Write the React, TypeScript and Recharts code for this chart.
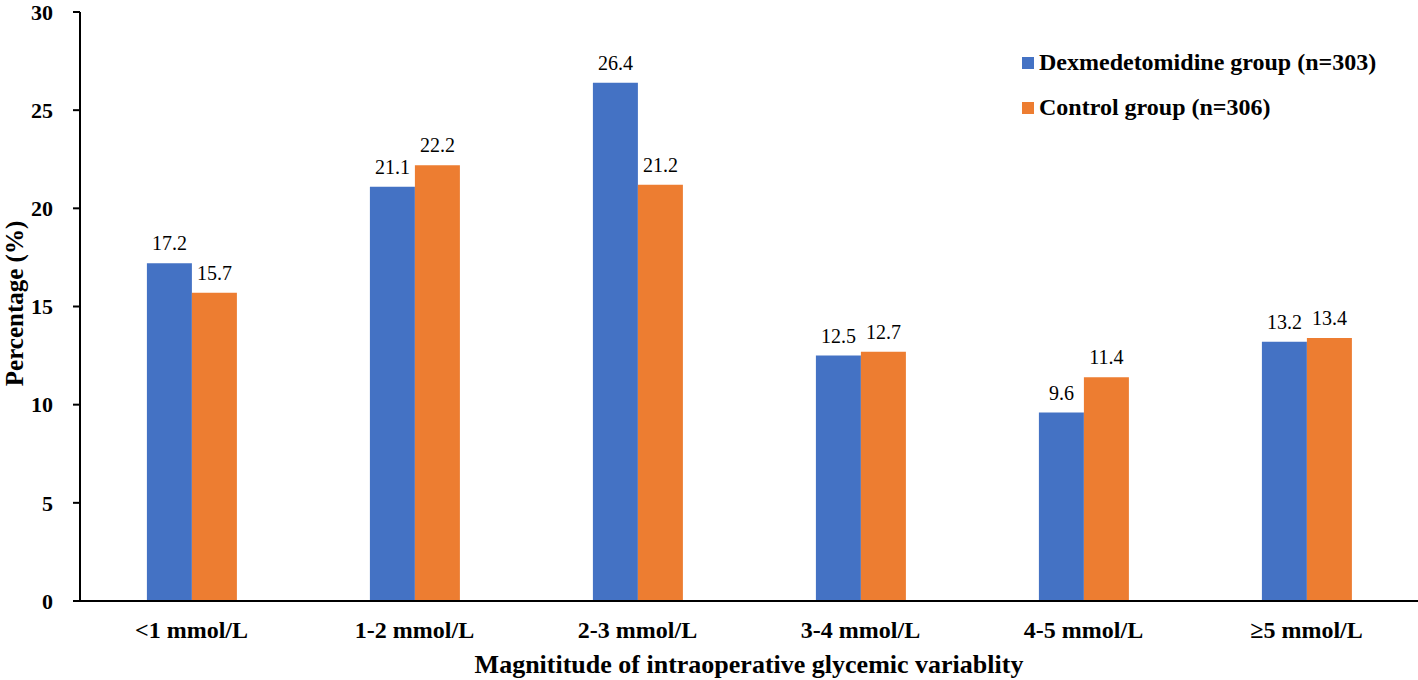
import React from "react";
import { BarChart, Bar, XAxis, YAxis, LabelList, Label } from "recharts";

const categories = ["<1 mmol/L", "1-2 mmol/L", "2-3 mmol/L", "3-4 mmol/L", "4-5 mmol/L", "≥5 mmol/L"];
const dexValues = [17.2, 21.1, 26.4, 12.5, 9.6, 13.2];
const controlValues = [15.7, 22.2, 21.2, 12.7, 11.4, 13.4];
const yTicks = [0, 5, 10, 15, 20, 25, 30];
const seriesNames = ["Dexmedetomidine group (n=303)", "Control group (n=306)"];
const colors = ["#4472C4", "#ED7D31"];

const data = categories.map((c, i) => ({ cat: c, dex: dexValues[i], ctrl: controlValues[i] }));

const FONT = "'Liberation Serif', 'Times New Roman', serif";

const YLabel = (props: any) => {
  const vb = props.viewBox || {};
  const cx = 23;
  const cy = vb.y + vb.height / 2 - 3;
  return (
    <text
      x={cx}
      y={cy}
      transform={`rotate(-90, ${cx}, ${cy})`}
      textAnchor="middle"
      fontFamily={FONT}
      fontWeight={700}
      fontSize={25}
      fill="#000"
    >
      Percentage (%)
    </text>
  );
};

export default function App() {
  return (
    <div style={{ position: "absolute", left: 0, top: 0, width: 1418, height: 680, background: "#fff" }}>
      <BarChart
        width={1418}
        height={680}
        data={data}
        margin={{ top: 12, right: 0, left: 0, bottom: 0 }}
        barCategoryGap="30%"
        barGap={0}
      >
        <XAxis
          dataKey="cat"
          tickLine={false}
          axisLine={{ stroke: "#000", strokeWidth: 2 }}
          tickMargin={14}
          height={79}
          tick={{ fontFamily: FONT, fontWeight: 700, fontSize: 24, fill: "#000" }}
        >
          <Label
            value="Magnititude of intraoperative glycemic variablity"
            position="insideBottom"
            offset={7}
            style={{ fontFamily: FONT, fontWeight: 700, fontSize: 26, fill: "#000" }}
          />
        </XAxis>
        <YAxis
          domain={[0, 30]}
          ticks={yTicks}
          width={80}
          tickSize={7}
          tickMargin={20}
          interval={0}
          axisLine={{ stroke: "#000", strokeWidth: 2 }}
          tickLine={{ stroke: "#000", strokeWidth: 2 }}
          tick={{ fontFamily: FONT, fontWeight: 700, fontSize: 22, fill: "#000" }}
        >
          <Label content={<YLabel />} />
        </YAxis>
        <Bar dataKey="dex" name={seriesNames[0]} fill={colors[0]} isAnimationActive={false}>
          <LabelList dataKey="dex" position="top" offset={13} style={{ fontFamily: FONT, fontSize: 20, fill: "#000" }} />
        </Bar>
        <Bar dataKey="ctrl" name={seriesNames[1]} fill={colors[1]} isAnimationActive={false}>
          <LabelList dataKey="ctrl" position="top" offset={13} style={{ fontFamily: FONT, fontSize: 20, fill: "#000" }} />
        </Bar>
      </BarChart>
      <div
        style={{
          position: "absolute",
          left: 1022,
          top: 40,
          fontFamily: FONT,
          fontWeight: 700,
          fontSize: 24,
          color: "#000",
          whiteSpace: "nowrap",
        }}
      >
        {seriesNames.map((n, i) => (
          <div key={n} style={{ display: "flex", alignItems: "center", height: 45 }}>
            <span style={{ display: "inline-block", width: 12, height: 12, background: colors[i], marginRight: 5 }} />
            <span>{n}</span>
          </div>
        ))}
      </div>
    </div>
  );
}
